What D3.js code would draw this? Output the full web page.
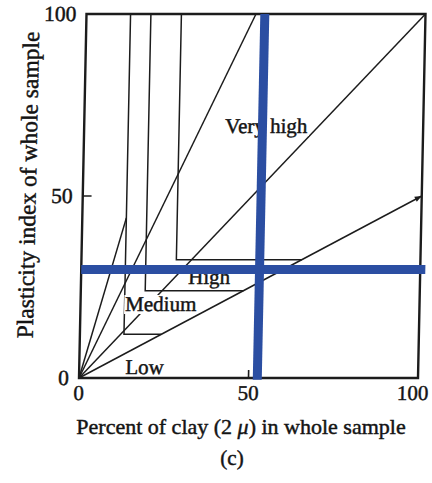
<!DOCTYPE html>
<html><head><meta charset="utf-8">
<script src="https://cdn.jsdelivr.net/npm/d3@7"></script>
<style>
html,body{margin:0;padding:0;background:#fff;}
svg{display:block;}
text{font-family:"Liberation Serif","Times New Roman",serif;fill:#141414;stroke:#141414;stroke-width:0.45px;}
</style></head><body>
<svg id="chart" width="432" height="483"></svg>
<script>
// ---- data ----
const xTicks = [0, 50, 100];
const yTicks = [0, 50, 100];
const xTickLabels = ["0", "50", "100"];
const yTickLabels = ["0", "50", "100"];
// activity lines from the origin: end points [clay, PI]
const activityEndClay = [13, 50, 100, 100];
const activityEndPI   = [44, 100, 100, 50];
const activityArrow   = [false, false, false, true];
// region boundaries: vertical at clay, down to PI, then horizontal to the A=0.5 line
const boundaryClay    = [13, 19, 28];
const boundaryPI      = [12, 24, 32.5];
const boundaryEndClay = [24, 48, 65];
// region labels (left, baseline) in data units
const regionLabels = ["Low", "Medium", "High", "Very high"];
const regionLabelClay = [13.6, 13.2, 31.6, 41.6];
const regionLabelPI   = [1.1, 18.4, 25.8, 67.3];
// highlighted reading (blue cross)
const markerClay = 52.6;
const markerPI = 29.8;
const markerClaySpan = [-0.5, 100];
const markerPISpan = [0, 101.5];

const yTitle = "Plasticity index of whole sample";
const caption = "(c)";

// ---- drawing ----
const W = 432;
const svg = d3.select("#chart");
const x = d3.scaleLinear().domain([0, 100]).range([79, 418]);
const y = d3.scaleLinear().domain([0, 100]).range([378, 14]);
const ink = "#1c1c1c";
const blue = "#2b4ea2";

// scanned page is slightly sheared
const shearDeg = -1.18;
const g = svg.append("g")
  .attr("transform", `translate(0,${y(0)}) skewX(${shearDeg}) translate(0,${-y(0)})`);

svg.append("defs").append("marker")
  .attr("id", "arr").attr("viewBox", "0 0 10 10")
  .attr("refX", 10).attr("refY", 5)
  .attr("markerWidth", 9).attr("markerHeight", 7)
  .attr("markerUnits", "userSpaceOnUse")
  .attr("orient", "auto")
  .append("path").attr("d", "M0,1 L10,5 L0,9 z").attr("fill", ink);

const line = d3.line().x(d => x(d[0])).y(d => y(d[1]));

// activity lines
activityEndClay.forEach((c, i) => {
  g.append("path")
    .attr("d", line([[0, 0], [c, activityEndPI[i]]]))
    .attr("fill", "none").attr("stroke", ink).attr("stroke-width", 1.5)
    .attr("marker-end", activityArrow[i] ? "url(#arr)" : null);
});

// boundaries
boundaryClay.forEach((c, i) => {
  g.append("path")
    .attr("d", line([[c, 100], [c, boundaryPI[i]], [boundaryEndClay[i], boundaryPI[i]]]))
    .attr("fill", "none").attr("stroke", ink).attr("stroke-width", 1.5);
});

// region labels with white backing
regionLabels.forEach((t, i) => {
  const lg = g.append("g");
  const txt = lg.append("text")
    .attr("x", x(regionLabelClay[i])).attr("y", y(regionLabelPI[i]))
    .attr("font-size", 21).text(t);
  const bb = txt.node().getBBox();
  lg.insert("rect", "text")
    .attr("x", bb.x - 1).attr("y", bb.y + 3)
    .attr("width", bb.width + 2).attr("height", bb.height - 5)
    .attr("fill", "#fff");
});

// frame
g.append("rect")
  .attr("x", x(0)).attr("y", y(100))
  .attr("width", x(100) - x(0)).attr("height", y(0) - y(100))
  .attr("fill", "none").attr("stroke", ink).attr("stroke-width", 2.4);

// inward ticks at 50
g.append("path").attr("d", line([[0, 50], [2.6, 50]])).attr("stroke", ink).attr("stroke-width", 1.6);
g.append("path").attr("d", line([[50, 0], [50, 2.2]])).attr("stroke", ink).attr("stroke-width", 1.6);

// tick labels
g.selectAll(".xt").data(xTicks).join("text")
  .attr("x", d => Math.min(x(d), W - 19)).attr("y", y(0) + 22)
  .attr("text-anchor", "middle").attr("font-size", 21)
  .text((d, i) => xTickLabels[i]);
g.selectAll(".yt").data(yTicks).join("text")
  .attr("x", x(0) - 10).attr("y", d => y(d)).attr("dy", "0.34em")
  .attr("text-anchor", "end").attr("font-size", 21.5)
  .text((d, i) => yTickLabels[i]);

// axis titles
const xt = svg.append("text")
  .attr("x", 241).attr("y", 434)
  .attr("text-anchor", "middle").attr("font-size", 22);
xt.append("tspan").text("Percent of clay (2 ");
xt.append("tspan").attr("font-style", "italic").text("μ");
xt.append("tspan").text(") in whole sample");

g.append("text")
  .attr("transform", `translate(32,${y(50) - 11}) rotate(-90)`)
  .attr("text-anchor", "middle").attr("font-size", 23.5)
  .text(yTitle);

svg.append("text")
  .attr("x", 232).attr("y", 465)
  .attr("text-anchor", "middle").attr("font-size", 21)
  .text(caption);

// blue cross
g.append("path").attr("d", line([[markerPISpan[0], markerPI], [markerPISpan[1], markerPI]]))
  .attr("stroke", blue).attr("stroke-width", 9);
g.append("path").attr("d", line([[markerClay, markerClaySpan[0]], [markerClay, markerClaySpan[1]]]))
  .attr("stroke", blue).attr("stroke-width", 9);
</script>
</body></html>
